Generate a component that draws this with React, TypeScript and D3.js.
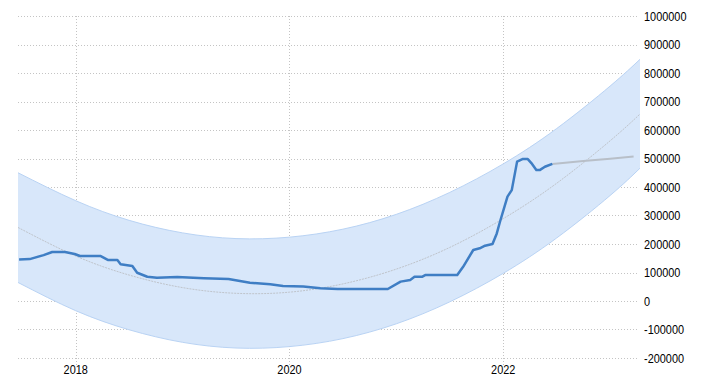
import * as d3 from "d3";

// actual series (decimal year, value)
const histYears = [
  2017.47, 2017.57, 2017.7, 2017.78, 2017.9, 2017.99, 2018.04, 2018.23, 2018.3, 2018.39,
  2018.42, 2018.53, 2018.575, 2018.67, 2018.76, 2018.95, 2019.2, 2019.43, 2019.63, 2019.82,
  2019.94, 2020.13, 2020.29, 2020.45, 2020.92, 2021.04, 2021.13, 2021.17, 2021.24, 2021.27,
  2021.57, 2021.625, 2021.72, 2021.78, 2021.83, 2021.9, 2021.94, 2021.97, 2022.04, 2022.08,
  2022.13, 2022.18, 2022.23, 2022.27, 2022.31, 2022.345, 2022.39, 2022.46,
];
const histValues = [
  146000, 147000, 161000, 172000, 172000, 165000, 158000, 158000, 144000, 144000,
  129000, 123000, 99000, 85000, 82000, 84000, 80000, 77000, 64000, 59000,
  53000, 51000, 44500, 42000, 42000, 68000, 74000, 85000, 85000, 91000,
  91000, 120000, 179000, 185000, 194000, 200000, 237000, 278000, 366000, 389000,
  489000, 498000, 498000, 481000, 460000, 460000, 471000, 481000,
];

// forecast
const fcYears = [2022.46, 2022.75, 2023.0, 2023.22];
const fcValues = [481000, 491000, 499000, 507000];

// trend band
const trendYears = [2017.46, 2018, 2018.5, 2019, 2019.5, 2020, 2020.5, 2021, 2021.5, 2022, 2022.5, 2023, 2023.28];
const trendMid = [258000, 158000, 91000, 47000, 27000, 31000, 60000, 112000, 188000, 289000, 413000, 562000, 656000];
const trendUpper = [450000, 352000, 283000, 239000, 219000, 224000, 252000, 304000, 381000, 481000, 605000, 754000, 848000];
const trendLower = [65000, -34000, -101000, -145000, -165000, -160000, -132000, -80000, -3000, 97000, 221000, 370000, 466000];

const yTicks = [-200000, -100000, 0, 100000, 200000, 300000, 400000, 500000, 600000, 700000, 800000, 900000, 1000000];
const xTicks = [2018, 2020, 2022];

const W = 728;
const H = 386;

export default function App() {
  const x = d3.scaleLinear().domain([2017.46, 2023.28]).range([18, 640]);
  const y = d3.scaleLinear().domain([-200000, 1000000]).range([358, 16]);

  const hist = histYears.map((t, i) => [t, histValues[i]] as [number, number]);
  const fc = fcYears.map((t, i) => [t, fcValues[i]] as [number, number]);
  const band = trendYears.map((t, i) => ({ t, mid: trendMid[i], hi: trendUpper[i], lo: trendLower[i] }));

  const line = d3
    .line<[number, number]>()
    .x((d) => x(d[0]))
    .y((d) => y(d[1]));

  const area = d3
    .area<{ t: number; hi: number; lo: number }>()
    .x((d) => x(d.t))
    .y0((d) => y(d.lo))
    .y1((d) => y(d.hi))
    .curve(d3.curveNatural);

  const edge = (key: "hi" | "lo" | "mid") =>
    d3
      .line<{ t: number; hi: number; lo: number; mid: number }>()
      .x((d) => x(d.t))
      .y((d) => y(d[key]))
      .curve(d3.curveNatural)(band) || "";

  const font = "'Liberation Sans', Arial, sans-serif";
  // labels in the original are narrow, squeeze them horizontally
  const sx = 0.84;

  return (
    <svg
      width={W}
      height={H}
      style={{ position: "absolute", left: 0, top: 0, background: "#fff" }}
    >
      {/* grid */}
      {yTicks.map((v) => (
        <line
          key={v}
          x1={18}
          x2={638}
          y1={Math.round(y(v)) + 0.5}
          y2={Math.round(y(v)) + 0.5}
          stroke="#c4c4c4"
          strokeDasharray="1,2"
        />
      ))}
      {xTicks.map((t) => (
        <line
          key={t}
          x1={Math.round(x(t)) + 0.5}
          x2={Math.round(x(t)) + 0.5}
          y1={16}
          y2={366}
          stroke="#c4c4c4"
          strokeDasharray="1,2"
        />
      ))}

      {/* trend band */}
      <path d={area(band) || ""} fill="#d8e7fa" />
      <path d={edge("hi")} fill="none" stroke="#b9d3f4" strokeWidth={1} />
      <path d={edge("lo")} fill="none" stroke="#b9d3f4" strokeWidth={1} />
      <path d={edge("mid")} fill="none" stroke="#bfc4cb" strokeWidth={1} strokeDasharray="2,1" />

      {/* forecast */}
      <path d={line(fc) || ""} fill="none" stroke="#b8bfc8" strokeWidth={2} />
      {/* actual */}
      <path d={line(hist) || ""} fill="none" stroke="#3f7ec4" strokeWidth={2.5} strokeLinejoin="round" />

      {/* y labels */}
      {yTicks.map((v) => (
        <text
          key={v}
          transform={`translate(644,${y(v) + 4.5}) scale(${sx},1)`}
          fontFamily={font}
          fontSize={13}
          fill="#000"
        >
          {String(v)}
        </text>
      ))}
      {/* x labels */}
      {xTicks.map((t) => (
        <text
          key={t}
          transform={`translate(${x(t)},374) scale(${sx},1)`}
          textAnchor="middle"
          fontFamily={font}
          fontSize={13}
          fill="#000"
        >
          {String(t)}
        </text>
      ))}
    </svg>
  );
}
